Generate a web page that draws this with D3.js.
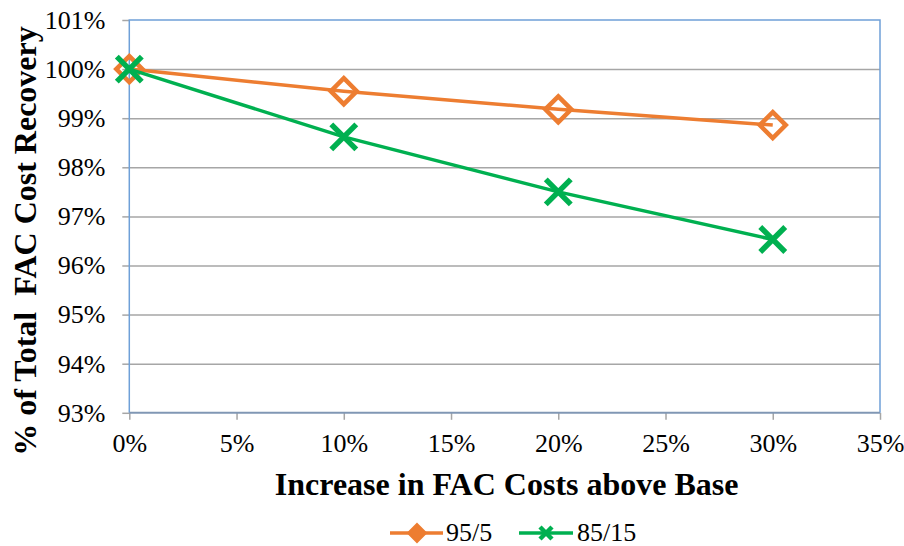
<!DOCTYPE html>
<html>
<head>
<meta charset="utf-8">
<script src="https://cdn.jsdelivr.net/npm/d3@7"></script>
<style>
  html, body { margin: 0; padding: 0; background: #ffffff; }
  svg { display: block; }
  svg text { font-family: "Liberation Serif", "Times New Roman", serif !important; fill: #000; }
</style>
</head>
<body>
<svg id="chart" width="904" height="546"></svg>
<script>
// Cost increase scenarios (percent above base)
const increases = [0, 10, 20, 30];
// Share of total FAC cost recovered, by split
const series9505 = [100, 99.55, 99.18, 98.86];
const series8515 = [100, 98.62, 97.50, 96.53];
const seriesNames = ["95/5", "85/15"];
const xTicks = [0, 5, 10, 15, 20, 25, 30, 35];
const yTicks = [93, 94, 95, 96, 97, 98, 99, 100, 101];

(function () {
const svg = d3.select("#chart");
const plotL = 129.3, plotR = 880, plotT = 20, plotB = 412.8;

const x = d3.scaleLinear().domain([0, 35]).range([plotL, plotR]);
const y = d3.scaleLinear().domain([93, 101]).range([plotB, plotT]);

const orange = "#ed7d31", green = "#00b050";

// horizontal gridlines
svg.append("g")
  .attr("transform", `translate(${plotL},0)`)
  .call(d3.axisLeft(y).tickValues(yTicks.slice(1, -1)).tickSize(-(plotR - plotL)).tickFormat(""))
  .call(g => g.select(".domain").remove())
  .call(g => g.selectAll("line").attr("stroke", "#a6a6a6").attr("stroke-width", 1.5));

// y axis ticks and labels
svg.append("g")
  .attr("transform", `translate(${plotL},0)`)
  .call(d3.axisLeft(y).tickValues(yTicks).tickSize(7).tickPadding(17).tickFormat(d => d + "%"))
  .call(g => g.select(".domain").remove())
  .call(g => g.selectAll("line").attr("stroke", "#a6a6a6").attr("stroke-width", 1.5))
  .call(g => g.selectAll("text").style("font-size", "26px"));

// x axis ticks and labels
svg.append("g")
  .attr("transform", `translate(0,${plotB})`)
  .call(d3.axisBottom(x).tickValues(xTicks).tickSize(7).tickPadding(14).tickFormat(d => d + "%"))
  .call(g => g.select(".domain").remove())
  .call(g => g.selectAll("line").attr("stroke", "#a6a6a6").attr("stroke-width", 1.5))
  .call(g => g.selectAll("text").style("font-size", "26px"));

// plot frame
svg.append("path")
  .attr("d", `M${plotL},${plotB}V${plotT}H${plotR}V${plotB}`)
  .attr("fill", "none").attr("stroke", "#6fa0d8").attr("stroke-width", 1.5);
svg.append("line")
  .attr("x1", plotL).attr("x2", plotR).attr("y1", plotB).attr("y2", plotB)
  .attr("stroke", "#8097b4").attr("stroke-width", 2);

const line = d3.line().x((d, i) => x(increases[i])).y(d => y(d));

function diamond(g, cx, cy, r, sw) {
  g.append("path")
    .attr("d", `M${cx},${cy - r}L${cx + r},${cy}L${cx},${cy + r}L${cx - r},${cy}Z`)
    .attr("fill", "none").attr("stroke", orange).attr("stroke-width", sw)
    .attr("stroke-linejoin", "miter");
}
function cross(g, cx, cy, r, sw) {
  g.append("path")
    .attr("d", `M${cx - r},${cy - r}L${cx + r},${cy + r}M${cx - r},${cy + r}L${cx + r},${cy - r}`)
    .attr("fill", "none").attr("stroke", green).attr("stroke-width", sw);
}

// 95/5 series
svg.append("path").datum(series9505).attr("d", line)
  .attr("fill", "none").attr("stroke", orange).attr("stroke-width", 3.5);
const g1 = svg.append("g");
series9505.forEach((v, i) => diamond(g1, x(increases[i]), y(v), 13, 4.5));

// 85/15 series
svg.append("path").datum(series8515).attr("d", line)
  .attr("fill", "none").attr("stroke", green).attr("stroke-width", 3.5);
const g2 = svg.append("g");
series8515.forEach((v, i) => cross(g2, x(increases[i]), y(v), 12.5, 5.5));

// axis titles
svg.append("text")
  .attr("x", (plotL + plotR) / 2 + 2).attr("y", 495)
  .attr("text-anchor", "middle").attr("font-weight", "bold").style("font-size", "32px")
  .text("Increase in FAC Costs above Base");
svg.append("text")
  .attr("transform", `translate(36,241) rotate(-90)`)
  .attr("text-anchor", "middle").attr("font-weight", "bold").style("font-size", "32px")
  .style("white-space", "pre")
  .text("% of Total  FAC Cost Recovery");

// legend
const ly = 533;
const lg = svg.append("g");
lg.append("line").attr("x1", 390).attr("x2", 443).attr("y1", ly).attr("y2", ly)
  .attr("stroke", orange).attr("stroke-width", 3.5);
lg.append("path")
  .attr("d", `M417,${ly - 9}L426,${ly}L417,${ly + 9}L408,${ly}Z`)
  .attr("fill", orange).attr("stroke", orange).attr("stroke-width", 2);
lg.append("text").attr("x", 446).attr("y", ly + 8).style("font-size", "26px").text(seriesNames[0]);
lg.append("line").attr("x1", 519).attr("x2", 573).attr("y1", ly).attr("y2", ly)
  .attr("stroke", green).attr("stroke-width", 3.5);
lg.append("path")
  .attr("d", `M${546 - 6},${ly - 6}L${546 + 6},${ly + 6}M${546 - 6},${ly + 6}L${546 + 6},${ly - 6}`)
  .attr("stroke", green).attr("stroke-width", 4.5);
lg.append("text").attr("x", 577).attr("y", ly + 8).style("font-size", "26px").text(seriesNames[1]);
})();
</script>
</body>
</html>
